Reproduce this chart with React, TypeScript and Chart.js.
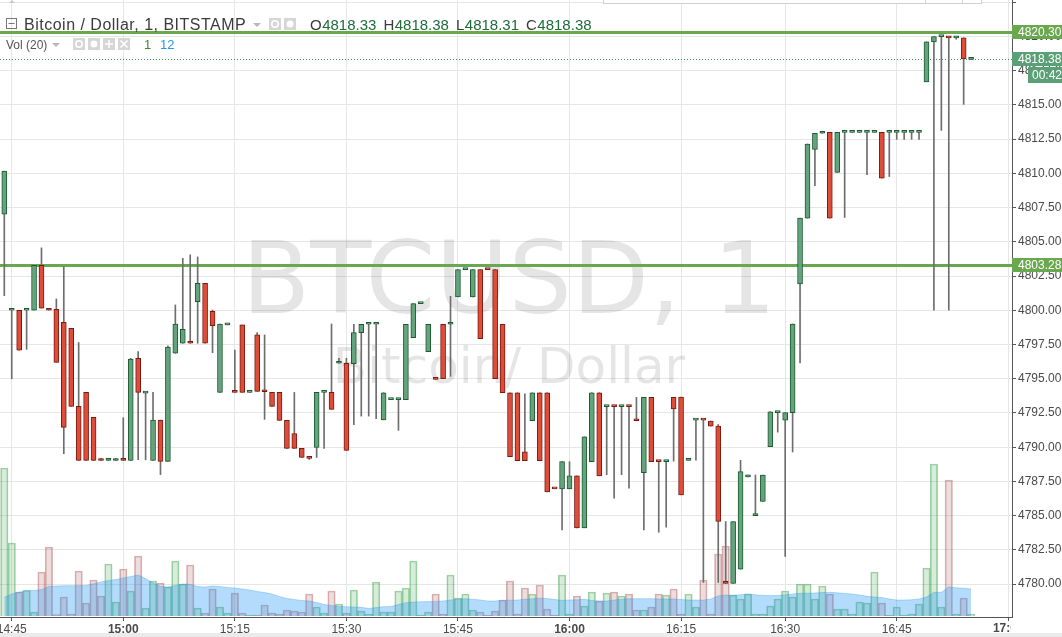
import React, { useEffect, useRef } from "react";
import { Chart, registerables } from "chart.js";

Chart.register(...registerables);

// ---------------- data ----------------
const times = (
  "14:44 14:45 14:46 14:47 14:48 14:49 14:50 14:51 14:52 14:53 14:54 14:55 14:56 14:57 14:58 14:59 " +
  "15:00 15:01 15:02 15:03 15:04 15:05 15:06 15:07 15:08 15:09 15:10 15:11 15:12 15:13 15:14 15:15 15:16 15:17 15:18 15:19 " +
  "15:20 15:21 15:22 15:23 15:24 15:25 15:26 15:27 15:28 15:29 15:30 15:31 15:32 15:33 15:34 15:35 15:36 15:37 15:38 15:39 " +
  "15:40 15:41 15:42 15:43 15:44 15:45 15:46 15:47 15:48 15:49 15:50 15:51 15:52 15:53 15:54 15:55 15:56 15:57 15:58 15:59 " +
  "16:00 16:01 16:02 16:03 16:04 16:05 16:06 16:07 16:08 16:09 16:10 16:11 16:12 16:13 16:14 16:15 16:16 16:17 16:18 16:19 " +
  "16:20 16:21 16:22 16:23 16:24 16:26 16:27 16:28 16:29 16:30 16:31 16:32 16:33 16:34 16:35 16:36 16:37 16:38 16:39 16:40 " +
  "16:41 16:42 16:43 16:44 16:45 16:46 16:47 16:48 16:49 16:50 16:51 16:52 16:53 16:54 16:55"
).split(" ");

const open = [
  4807.02, 4800.0, 4800.0, 4800.0, 4800.0, 4803.29, 4800.15, 4800.07, 4799.12, 4798.68,
  4792.98, 4794.0, 4792.18, 4789.1, 4789.03, 4789.03, 4789.18, 4789.03, 4796.49, 4793.95,
  4789.03, 4791.98, 4788.96, 4796.86, 4797.59, 4797.6, 4800.63, 4801.97, 4799.93, 4794.0,
  4798.93, 4794.01, 4798.93, 4794.0, 4798.2, 4794.06, 4794.0, 4794.0, 4791.96, 4791.0,
  4789.91, 4789.25, 4789.98, 4794.0, 4794.0, 4796.13, 4796.13, 4796.1, 4798.37, 4798.98,
  4798.98, 4792.0, 4793.47, 4793.47, 4793.47, 4798.0, 4800.49, 4796.98, 4795.0, 4798.98,
  4798.98, 4800.97, 4802.97, 4800.97, 4802.97, 4802.98, 4802.97, 4798.98, 4793.98, 4793.98,
  4789.67, 4791.93, 4793.98, 4793.98, 4786.97, 4786.96, 4786.96, 4787.91, 4784.11, 4788.94,
  4793.98, 4792.96, 4792.97, 4792.96, 4792.97, 4791.94, 4788.13, 4793.64, 4788.95, 4788.94,
  4793.64, 4793.66, 4789.04, 4791.98, 4791.99, 4791.91, 4791.54, 4780.06, 4780.05, 4781.09,
  4787.83, 4785.0, 4786.03, 4790.04, 4792.52, 4791.98, 4792.52, 4801.92, 4806.73, 4811.76,
  4812.93, 4813.0, 4810.08, 4813.0, 4813.0, 4813.0, 4813.0, 4813.0, 4813.0, 4813.0,
  4813.0, 4813.0, 4813.0, 4813.0, 4816.69, 4819.61, 4819.99, 4820.0, 4819.9, 4819.9, 4818.33,
];
const high = [
  4810.16, 4800.01, 4800.0, 4800.01, 4803.29, 4804.56, 4800.15, 4800.83, 4803.19, 4798.68,
  4797.64, 4794.0, 4792.18, 4789.18, 4789.18, 4789.18, 4792.15, 4796.49, 4796.98, 4794.0,
  4794.0, 4791.98, 4797.4, 4800.39, 4803.8, 4804.05, 4803.9, 4801.97, 4800.02, 4799.0,
  4799.0, 4797.1, 4798.93, 4794.01, 4798.37, 4798.2, 4794.0, 4794.0, 4791.96, 4794.0,
  4789.91, 4789.25, 4794.0, 4794.01, 4799.0, 4796.5, 4796.5, 4798.98, 4798.98, 4798.99,
  4798.99, 4793.98, 4793.48, 4793.48, 4798.98, 4800.49, 4800.5, 4798.98, 4795.0, 4798.98,
  4801.02, 4802.97, 4802.98, 4802.97, 4802.97, 4802.98, 4802.97, 4798.98, 4793.98, 4793.98,
  4793.9, 4793.98, 4793.98, 4793.98, 4786.97, 4788.94, 4788.94, 4787.91, 4790.76, 4793.98,
  4793.98, 4792.97, 4792.97, 4792.97, 4792.97, 4793.64, 4793.64, 4793.64, 4788.95, 4788.95,
  4793.64, 4793.66, 4789.05, 4791.99, 4791.99, 4791.91, 4791.66, 4784.57, 4784.57, 4789.04,
  4787.97, 4787.97, 4787.97, 4792.59, 4792.53, 4792.52, 4799.0, 4806.73, 4812.15, 4812.93,
  4813.0, 4813.0, 4813.0, 4813.01, 4813.01, 4813.01, 4813.01, 4813.01, 4813.0, 4813.01,
  4813.01, 4813.01, 4813.01, 4813.01, 4819.61, 4820.0, 4820.0, 4820.0, 4820.0, 4819.9, 4818.38,
];
const low = [
  4801.07, 4795.0, 4797.08, 4797.15, 4800.0, 4800.15, 4800.0, 4796.2, 4789.52, 4792.98,
  4789.03, 4789.03, 4789.03, 4789.03, 4789.03, 4789.03, 4789.03, 4789.03, 4789.08, 4789.08,
  4789.03, 4788.0, 4788.96, 4796.86, 4797.59, 4797.59, 4797.59, 4797.59, 4796.9, 4794.0,
  4798.93, 4794.0, 4794.0, 4794.0, 4794.08, 4792.03, 4792.98, 4791.96, 4789.91, 4789.91,
  4789.25, 4789.1, 4789.25, 4789.91, 4792.76, 4796.13, 4789.76, 4791.64, 4792.27, 4792.27,
  4792.08, 4792.0, 4793.47, 4791.23, 4793.47, 4798.0, 4800.49, 4796.98, 4794.95, 4795.0,
  4795.17, 4800.97, 4802.97, 4800.97, 4797.93, 4802.97, 4795.0, 4793.98, 4789.3, 4789.01,
  4789.01, 4791.93, 4789.01, 4786.74, 4786.96, 4783.96, 4786.96, 4784.11, 4784.11, 4788.94,
  4787.91, 4787.99, 4786.28, 4787.99, 4787.0, 4791.93, 4783.96, 4788.94, 4783.79, 4784.16,
  4788.98, 4786.51, 4789.04, 4789.06, 4780.12, 4791.54, 4780.12, 4780.05, 4780.05, 4781.09,
  4787.83, 4785.0, 4786.03, 4790.04, 4791.1, 4782.02, 4789.65, 4796.16, 4806.73, 4809.11,
  4812.93, 4806.73, 4810.08, 4806.78, 4813.0, 4813.0, 4809.91, 4813.0, 4809.65, 4809.77,
  4812.49, 4812.49, 4812.49, 4812.49, 4816.69, 4800.0, 4813.14, 4800.0, 4819.8, 4815.04, 4818.31,
];
const close = [
  4810.16, 4800.01, 4797.08, 4800.01, 4803.29, 4800.15, 4800.0, 4796.2, 4791.45, 4792.98,
  4789.03, 4789.03, 4789.03, 4789.03, 4789.18, 4789.04, 4789.03, 4796.44, 4794.0, 4794.0,
  4791.98, 4788.96, 4797.32, 4799.0, 4798.61, 4797.59, 4801.97, 4797.59, 4798.88, 4799.0,
  4798.94, 4794.0, 4794.0, 4794.01, 4794.08, 4794.05, 4792.98, 4791.96, 4789.91, 4789.91,
  4789.25, 4789.18, 4794.0, 4794.01, 4792.76, 4796.14, 4789.76, 4798.37, 4798.98, 4798.99,
  4798.99, 4793.98, 4793.48, 4793.48, 4798.98, 4800.49, 4800.5, 4798.98, 4794.95, 4795.0,
  4798.99, 4802.97, 4802.98, 4802.97, 4797.93, 4802.97, 4795.0, 4793.98, 4789.3, 4789.01,
  4789.01, 4793.98, 4789.01, 4786.74, 4786.96, 4788.94, 4787.91, 4784.11, 4790.76, 4793.98,
  4787.91, 4792.97, 4792.96, 4792.97, 4792.96, 4791.93, 4793.64, 4788.94, 4788.94, 4788.95,
  4792.79, 4786.51, 4789.05, 4791.99, 4791.98, 4791.54, 4784.57, 4780.05, 4784.57, 4788.21,
  4787.97, 4785.01, 4787.97, 4792.59, 4792.53, 4792.52, 4799.0, 4806.73, 4812.15, 4812.93,
  4813.0, 4806.73, 4813.0, 4813.01, 4813.01, 4813.01, 4813.01, 4813.01, 4809.65, 4813.01,
  4813.01, 4813.01, 4813.01, 4813.01, 4819.61, 4820.0, 4820.0, 4819.9, 4819.91, 4818.37, 4818.38,
];
const volume = [
  148, 73, 24, 26, 4, 44, 69, 1.5, 19, 2,
  45, 13, 36, 20, 52, 14, 47, 25, 60, 8,
  35, 33, 29, 55, 32, 51, 8, 3, 27, 9,
  3, 23, 3, 1, 1, 11, 3, 2, 6, 5,
  4, 22, 9, 3, 25, 12, 3, 26, 5, 2,
  34, 4, 4, 25, 28, 55, 1, 4, 22, 2,
  41, 18, 22, 6, 4, 1, 5, 16, 35, 2,
  28, 22, 31, 7, 1, 41, 2, 20, 10, 24,
  15, 23, 24, 20, 22, 6, 6, 9, 22, 21,
  27, 2, 22, 9, 36, 2, 62, 70, 21, 17,
  22, 2, 2, 10, 17, 25, 19, 32, 32, 17,
  30, 22, 7, 7, 2, 14, 13, 44, 13, 1,
  9, 1, 2, 12, 48, 152, 9, 136, 2, 18, 2,
];
const volumeMA = [
  18.7, 22, 24, 25, 25.5, 26.5, 29.5, 30, 30.2, 30.3,
  30.3, 30.5, 32.3, 34, 35.5, 36.5, 38, 39.5, 41, 37.5,
  33, 29.7, 29, 30.5, 32, 31.7, 29.5, 29, 30, 29.5,
  28.5, 28, 27, 26, 24.5, 23.5, 22, 19.5, 17.5, 16.5,
  15.5, 15, 13.5, 11.5, 10.5, 9.5, 9.3, 9, 8.7, 7.5,
  8.5, 9.3, 9.5, 11.5, 13.3, 14, 14.2, 14.4, 14.6, 15,
  16, 16.8, 17.2, 16.8, 16, 15, 15, 15.7, 15.8, 16,
  16.7, 17.2, 17.8, 17.5, 16.5, 15.7, 16, 16.2, 16.7, 15.5,
  15, 15, 16, 16.8, 17.2, 17.3, 17.3, 17.3, 17.1, 17,
  17, 16.5, 16, 16, 16, 17, 20, 21, 20.7, 21.3,
  22, 21.2, 20.6, 20.4, 20.5, 21.2, 22, 22.7, 22.8, 23,
  23.5, 23.7, 23.2, 22.5, 22, 21, 19.7, 19, 18.5, 17,
  16, 16, 16.2, 17, 19, 23.7, 23.7, 29.3, 28.2, 27.7, 27,
];
// x-axis tick positions (bar index) and their labels
const tickIdx = [1, 16, 31, 46, 61, 76, 91, 105, 120, 135];
const tickLabels = ["14:45", "15:00", "15:15", "15:30", "15:45", "16:00", "16:15", "16:30", "16:45", "17:00"];
// horizontal level lines
const levelLines = [4820.3, 4803.28];
const countdown = "00:42";
const symbolTitle = "Bitcoin / Dollar, 1, BITSTAMP";
const watermark = ["BTCUSD, 1", "Bitcoin/ Dollar"];
const volLegend = ["Vol (20)", "1", "12"];
const ohlcLetters = ["O", "H", "L", "C"];

// ---------------- styling ----------------
const AXIS_FONT = "'Liberation Sans', Arial, sans-serif";
const TEXT_FONT = "'Liberation Sans', Arial, sans-serif";
const WM_FONT = "'DejaVu Sans', sans-serif";
const GRID = "#e6e6e6";
const AXIS = "#555555";
const LABEL = "#4a4a4a";
const GREEN_FILL = "#64a47d";
const GREEN_EDGE = "#1d5a32";
const RED_FILL = "#de4d39";
const RED_EDGE = "#7a1a0f";
const LEVEL = "#6aa84f";
const LAST = "#5b9f77";

const X_MIN = -0.578;
const X_MAX = 135.5;
const Y_MIN = 4777.596;
const Y_MAX = 4822.666;

export default function App() {
  const ref = useRef<HTMLCanvasElement>(null);

  useEffect(() => {
    document.body.style.margin = "0";
    const canvas = ref.current;
    if (!canvas) return;
    const n = times.length;
    const idx = times.map((_, i) => i);
    const up = idx.map((i) => close[i] >= open[i]);
    const last = n - 1;

    const labelFor = (v: number) => {
      const k = tickIdx.indexOf(v);
      return k >= 0 ? tickLabels[k] : "";
    };

    const overlay = {
      id: "overlay",
      beforeDatasetsDraw(chart: any) {
        const { ctx, chartArea: a, scales } = chart;
        const ys = scales.y;
        ctx.save();
        ctx.beginPath();
        ctx.rect(a.left, a.top, a.right - a.left, a.bottom - a.top);
        ctx.clip();
        // watermark
        const cx = (a.left + a.right) / 2 + 3;
        ctx.fillStyle = "rgba(0,0,0,0.1)";
        ctx.textAlign = "center";
        ctx.textBaseline = "alphabetic";
        ctx.font = `100px ${WM_FONT}`;
        ctx.fillText(watermark[0], cx, 313);
        ctx.font = `50px ${WM_FONT}`;
        ctx.fillText(watermark[1], cx, 383);
        // level lines
        levelLines.forEach((v) => {
          const py = ys.getPixelForValue(v);
          ctx.strokeStyle = LEVEL;
          ctx.lineWidth = 3;
          ctx.beginPath();
          ctx.moveTo(a.left, py);
          ctx.lineTo(a.right, py);
          ctx.stroke();
        });
        // last price dotted line
        const lp = Math.round(ys.getPixelForValue(close[last])) + 0.5;
        ctx.strokeStyle = "#3f8f5f";
        ctx.lineWidth = 1;
        ctx.setLineDash([1, 2]);
        ctx.beginPath();
        ctx.moveTo(a.left, lp);
        ctx.lineTo(a.right, lp);
        ctx.stroke();
        ctx.restore();
      },
      afterDraw(chart: any) {
        const { ctx, chartArea: a, scales } = chart;
        const ys = scales.y;
        const xs = scales.x;
        const W = chart.width;
        ctx.save();

        // clipped last x label (17:00)
        ctx.save();
        ctx.beginPath();
        ctx.rect(0, a.bottom + 1, a.right - 1, 20);
        ctx.clip();
        ctx.font = `bold 12px ${AXIS_FONT}`;
        ctx.fillStyle = LABEL;
        ctx.textAlign = "center";
        ctx.textBaseline = "top";
        ctx.fillText(tickLabels[tickLabels.length - 1], xs.getPixelForValue(tickIdx[tickIdx.length - 1]), a.bottom + 6);
        ctx.restore();

        // bottom strip
        ctx.fillStyle = "#ebebeb";
        ctx.fillRect(0, 633, W, 4);

        // price boxes
        ctx.font = `12px ${AXIS_FONT}`;
        ctx.textAlign = "left";
        ctx.textBaseline = "middle";
        const boxes = [
          { v: levelLines[0], c: LEVEL },
          { v: levelLines[1], c: LEVEL },
          { v: close[last], c: LAST },
        ];
        boxes.forEach((b) => {
          const py = Math.round(ys.getPixelForValue(b.v));
          ctx.fillStyle = b.c;
          ctx.fillRect(a.right, py - 7, W - a.right, 14);
          ctx.fillStyle = "#ffffff";
          ctx.fillText(b.v.toFixed(2), a.right + 6, py + 0.5);
        });
        const lpy = Math.round(ys.getPixelForValue(close[last]));
        ctx.fillStyle = LAST;
        ctx.fillRect(1028, lpy + 8, W - 1028, 16);
        ctx.fillStyle = "#ffffff";
        ctx.fillText(countdown, 1032, lpy + 16.5);

        // top toolbar remnant
        ctx.fillStyle = "#ffffff";
        ctx.fillRect(603, -2, 379, 6);
        ctx.strokeStyle = "#d0d0d0";
        ctx.lineWidth = 1;
        ctx.strokeRect(603.5, -2.5, 378, 6);
        [925.5, 962.5].forEach((x) => {
          ctx.beginPath();
          ctx.moveTo(x, 0);
          ctx.lineTo(x, 3.5);
          ctx.stroke();
        });
        ctx.fillStyle = "#c8c8c8";
        ctx.beginPath();
        ctx.moveTo(9, 3);
        ctx.lineTo(12, 0);
        ctx.lineTo(15, 3);
        ctx.closePath();
        ctx.fill();

        // ---------- header legend ----------
        ctx.textAlign = "left";
        ctx.textBaseline = "alphabetic";
        ctx.strokeStyle = "#777777";
        ctx.lineWidth = 1;
        ctx.strokeRect(6.5, 18.5, 10, 10);
        ctx.beginPath();
        ctx.moveTo(8.5, 23.5);
        ctx.lineTo(14.5, 23.5);
        ctx.stroke();
        ctx.font = `16px ${TEXT_FONT}`;
        ctx.fillStyle = "#3b3b3b";
        (ctx as any).letterSpacing = "0.5px";
        ctx.fillText(symbolTitle, 24, 29.5);
        (ctx as any).letterSpacing = "0px";
        const tri = (x: number, y: number) => {
          ctx.fillStyle = "#b8b8b8";
          ctx.beginPath();
          ctx.moveTo(x, y);
          ctx.lineTo(x + 8, y);
          ctx.lineTo(x + 4, y + 4);
          ctx.closePath();
          ctx.fill();
        };
        tri(253, 23);
        const iconBox = (x: number, y: number, kind: string) => {
          ctx.fillStyle = "#d6d6d6";
          ctx.fillRect(x, y, 12, 12);
          ctx.strokeStyle = "#ffffff";
          ctx.fillStyle = "#ffffff";
          ctx.lineWidth = 1.5;
          const cx = x + 6, cy = y + 6;
          ctx.beginPath();
          if (kind === "eye") {
            ctx.arc(cx, cy, 3.2, 0, Math.PI * 2);
            ctx.stroke();
          } else if (kind === "gear") {
            ctx.arc(cx, cy, 3.5, 0, Math.PI * 2);
            ctx.fill();
          } else if (kind === "plus") {
            ctx.moveTo(cx - 4, cy); ctx.lineTo(cx + 4, cy);
            ctx.moveTo(cx, cy - 4); ctx.lineTo(cx, cy + 4);
            ctx.stroke();
          } else {
            ctx.moveTo(cx - 3.5, cy - 3.5); ctx.lineTo(cx + 3.5, cy + 3.5);
            ctx.moveTo(cx + 3.5, cy - 3.5); ctx.lineTo(cx - 3.5, cy + 3.5);
            ctx.stroke();
          }
        };
        iconBox(269, 18, "eye");
        iconBox(284, 18, "gear");
        // OHLC values of the last bar
        const vals = [open[last], high[last], low[last], close[last]];
        let hx = 310;
        ctx.font = `15px ${TEXT_FONT}`;
        ohlcLetters.forEach((L, k) => {
          ctx.fillStyle = "#3b3b3b";
          ctx.fillText(L, hx, 29.5);
          hx += ctx.measureText(L).width + 0.5;
          const t = vals[k].toFixed(2);
          ctx.fillStyle = "#1f6b3b";
          ctx.fillText(t, hx, 29.5);
          hx += ctx.measureText(t).width + 7;
        });
        // volume legend
        ctx.font = `12px ${TEXT_FONT}`;
        ctx.fillStyle = "#555555";
        ctx.fillText(volLegend[0], 6, 48.5);
        tri(52, 43);
        iconBox(73, 38, "eye");
        iconBox(88, 38, "gear");
        iconBox(103, 38, "plus");
        iconBox(118, 38, "x");
        ctx.font = `13px ${TEXT_FONT}`;
        ctx.fillStyle = "#3d8b2f";
        ctx.fillText(volLegend[1], 144, 48.5);
        ctx.fillStyle = "#2196f3";
        ctx.fillText(volLegend[2], 160, 48.5);

        ctx.restore();
      },
    };

    const chart = new Chart(canvas, {
      type: "bar",
      data: {
        datasets: [
          {
            type: "bar",
            label: "Body",
            data: idx.map((i) => ({ x: i, y: [open[i], close[i]] })) as any,
            yAxisID: "y",
            backgroundColor: up.map((u) => (u ? GREEN_FILL : RED_FILL)),
            borderColor: up.map((u) => (u ? GREEN_EDGE : RED_EDGE)),
            borderWidth: 1,
            borderSkipped: false,
            barThickness: 5,
            minBarLength: 2,
            grouped: false,
            order: 1,
          } as any,
          {
            type: "bar",
            label: "Wick",
            data: idx.map((i) => ({ x: i, y: [low[i], high[i]] })) as any,
            yAxisID: "y",
            backgroundColor: "#6e6e6e",
            barThickness: 1,
            grouped: false,
            order: 2,
          } as any,
          {
            type: "line",
            label: "Vol MA",
            data: idx.map((i) => ({ x: i, y: volumeMA[i] })) as any,
            yAxisID: "yv",
            fill: "origin",
            backgroundColor: "rgba(33,150,243,0.34)",
            borderColor: "rgba(33,150,243,0.3)",
            borderWidth: 1,
            pointRadius: 0,
            tension: 0,
            order: 3,
          } as any,
          {
            type: "bar",
            label: "Volume",
            data: idx.map((i) => ({ x: i, y: volume[i] })) as any,
            yAxisID: "yv",
            backgroundColor: up.map((u) => (u ? "rgba(60,160,70,0.2)" : "rgba(170,85,85,0.2)")),
            borderColor: up.map((u) => (u ? "rgba(44,155,66,0.45)" : "rgba(170,85,85,0.45)")),
            borderWidth: 1,
            barPercentage: 1,
            categoryPercentage: 1,
            grouped: false,
            order: 4,
          } as any,
        ],
      },
      options: {
        responsive: false,
        animation: false,
        events: [],
        layout: { padding: 0, autoPadding: false } as any,
        plugins: { legend: { display: false }, tooltip: { enabled: false } },
        scales: {
          x: {
            type: "linear",
            position: "bottom",
            min: X_MIN,
            max: X_MAX,
            offset: false,
            grid: { offset: false, color: GRID, lineWidth: 1, drawTicks: true, tickLength: 4, tickColor: AXIS },
            border: { display: true, color: AXIS, width: 1 },
            afterBuildTicks: (s: any) => {
              s.ticks = tickIdx.map((v) => ({ value: v }));
            },
            afterFit: (s: any) => {
              s.height = 20;
              s.paddingLeft = 0;
              s.paddingRight = 0;
              s.paddingTop = 0;
              s.paddingBottom = 0;
            },
            ticks: {
              autoSkip: false,
              maxRotation: 0,
              minRotation: 0,
              padding: 1,
              color: LABEL,
              font: (c: any) => {
                const lab = c.tick ? labelFor(c.tick.value) : "";
                return { family: AXIS_FONT, size: 12, weight: lab.endsWith(":00") ? "bold" : "normal" };
              },
              callback: (v: any) => {
                const lab = labelFor(Number(v));
                return lab === tickLabels[tickLabels.length - 1] ? "" : lab;
              },
            },
          } as any,
          y: {
            type: "linear",
            position: "right",
            min: Y_MIN,
            max: Y_MAX,
            grid: { color: GRID, lineWidth: 1, drawTicks: true, tickLength: 4, tickColor: AXIS },
            border: { display: true, color: AXIS, width: 1 },
            afterFit: (s: any) => {
              s.width = 50;
              s.paddingTop = 0;
              s.paddingBottom = 0;
              s.paddingLeft = 0;
              s.paddingRight = 0;
            },
            ticks: {
              stepSize: 2.5,
              includeBounds: false,
              padding: 2,
              color: LABEL,
              font: { family: AXIS_FONT, size: 12 },
              callback: (v: any) => (Number(v) > 4821 ? "" : Number(v).toFixed(2)),
            },
          } as any,
          yv: {
            type: "linear",
            display: false,
            min: -1,
            max: 616,
          } as any,
        },
      },
      plugins: [overlay],
    });

    return () => chart.destroy();
  }, []);

  return (
    <div style={{ width: 1062, height: 637, background: "#ffffff" }}>
      <canvas ref={ref} width={1062} height={637} style={{ display: "block" }} />
    </div>
  );
}
